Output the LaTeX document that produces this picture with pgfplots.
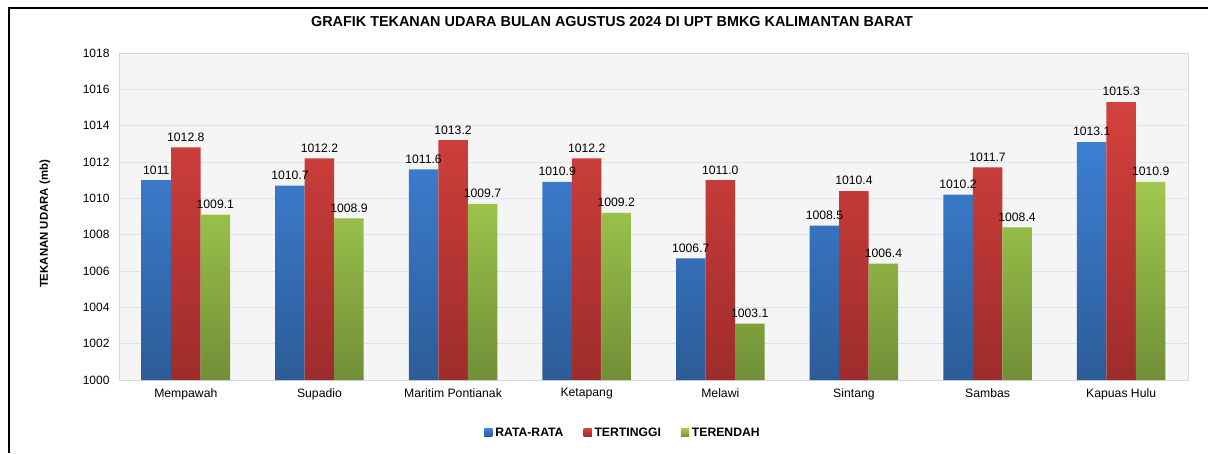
\documentclass[border=0pt]{standalone}
\usepackage{fontspec}
\setmainfont{Liberation Sans}
\usepackage{pgfplots}
\pgfplotsset{compat=1.18}

\definecolor{bluetop}{HTML}{3D7FD3}
\definecolor{bluebot}{HTML}{2C5C98}
\definecolor{redtop}{HTML}{D4413D}
\definecolor{redbot}{HTML}{9E2C2C}
\definecolor{greentop}{HTML}{A0C94E}
\definecolor{greenbot}{HTML}{718F37}
\definecolor{gridblue}{HTML}{D8E4F2}
\definecolor{framegray}{HTML}{D3D9E0}

\begin{document}
\begin{tikzpicture}
\path[use as bounding box] (0pt,0pt) rectangle (1208pt,-453pt);
\draw[line width=1.3pt] (9pt,-453pt) -- (9pt,-8pt) -- (1208pt,-8pt);

\node[font=\bfseries\fontsize{14.4}{16}\selectfont] at (612pt,-22pt) {GRAFIK TEKANAN UDARA BULAN AGUSTUS 2024 DI UPT BMKG KALIMANTAN BARAT};
\node[font=\bfseries\fontsize{11.4}{13}\selectfont, rotate=90] at (45pt,-224pt) {TEKANAN UDARA (mb)};

\begin{axis}[
    at={(119pt,-380pt)}, anchor=south west,
    width=1069pt, height=327pt, scale only axis,
    ybar=0pt, bar width=29.5pt,
    xmin=-0.5, xmax=7.5,
    ymin=1000, ymax=1018,
    ytick={1000,1002,...,1018},
    xtick=data,
    xticklabels={Mempawah,Supadio,Maritim Pontianak,Ketapang,Melawi,Sintang,Sambas,Kapuas Hulu},
    major tick length=0pt,
    ymajorgrids,
    grid style={gridblue, line width=0.9pt},
    axis line style={framegray, line width=0.8pt},
    axis background/.style={fill=black!4},
    /pgf/number format/assume math mode=true,
    /pgf/number format/1000 sep={},
    tick label style={font=\fontsize{12}{14}\selectfont},
    yticklabel style={xshift=-6pt},
    xticklabel style={font=\fontsize{12.2}{14}\selectfont, yshift=-5pt},
    point meta=explicit symbolic,
    nodes near coords,
    every node near coord/.append style={text=black, font=\fontsize{12.2}{14}\selectfont, yshift=2.5pt},
    legend columns=3,
    legend style={at={(0.4715,-0.162)}, anchor=center, draw=none, fill=none,
        font=\bfseries\fontsize{12.2}{14}\selectfont,
        /tikz/every odd column/.append style={column sep=1pt},
        /tikz/every even column/.append style={column sep=18pt}},
    legend image code/.code={\fill[#1] (0pt,-4pt) rectangle (8pt,4pt);},
]
\addplot[draw=none, top color=bluetop, bottom color=bluebot] coordinates {
    (0,1011) [1011] (1,1010.7) [1010.7] (2,1011.6) [1011.6] (3,1010.9) [1010.9]
    (4,1006.7) [1006.7] (5,1008.5) [1008.5] (6,1010.2) [1010.2] (7,1013.1) [1013.1]};
\addplot[draw=none, top color=redtop, bottom color=redbot] coordinates {
    (0,1012.8) [1012.8] (1,1012.2) [1012.2] (2,1013.2) [1013.2] (3,1012.2) [1012.2]
    (4,1011.0) [1011.0] (5,1010.4) [1010.4] (6,1011.7) [1011.7] (7,1015.3) [1015.3]};
\addplot[draw=none, top color=greentop, bottom color=greenbot] coordinates {
    (0,1009.1) [1009.1] (1,1008.9) [1008.9] (2,1009.7) [1009.7] (3,1009.2) [1009.2]
    (4,1003.1) [1003.1] (5,1006.4) [1006.4] (6,1008.4) [1008.4] (7,1010.9) [1010.9]};
\legend{RATA-RATA, TERTINGGI, TERENDAH}
\end{axis}
\end{tikzpicture}
\end{document}
